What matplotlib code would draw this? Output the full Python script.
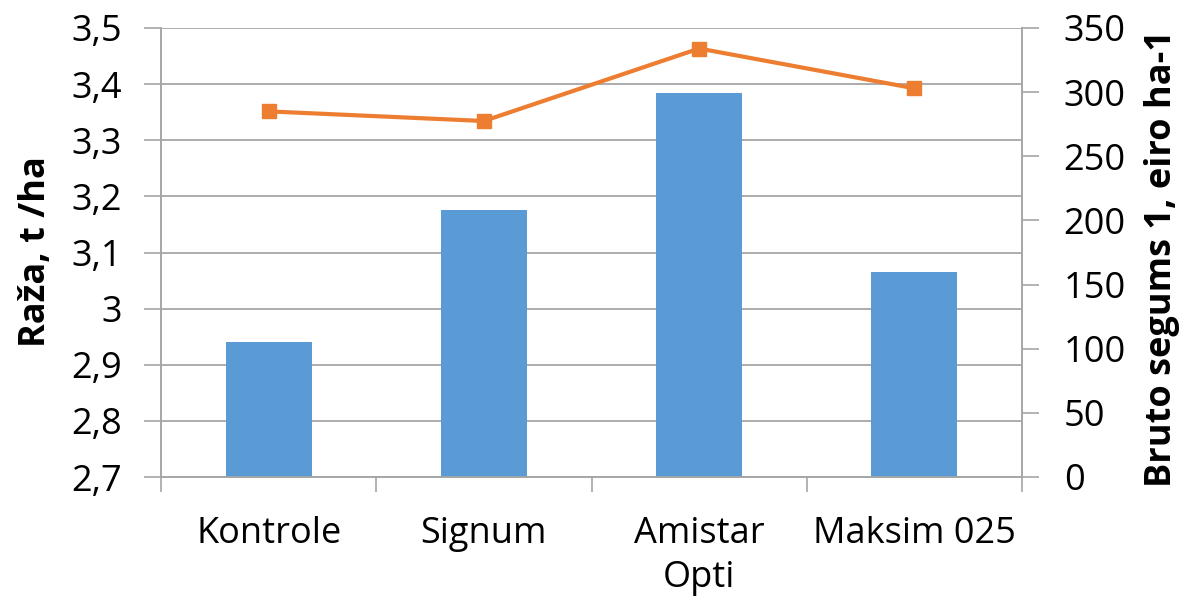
import matplotlib
matplotlib.use("Agg")
import matplotlib.pyplot as plt
from matplotlib.ticker import FuncFormatter

categories = ["Kontrole", "Signum", "Amistar\nOpti", "Maksim 025"]
yield_t_ha = [2.94, 3.175, 3.385, 3.065]
gross_margin = [285, 277.5, 334, 303]

plt.rcParams['font.family'] = ['Open Sans', 'DejaVu Sans']
grid_col = '#A6A6A6'
fs = 26

fig = plt.figure(figsize=(11.84, 6.03), dpi=100)
ax = fig.add_axes([161/1184, 1-477/603, (1022-161)/1184, (477-28)/603])
ax2 = ax.twinx()

x = list(range(len(categories)))
ax.bar(x, yield_t_ha, width=0.4, color='#5B9BD5', zorder=3)
ax.set_xlim(-0.5, len(categories) - 0.5)
ax.set_ylim(2.7, 3.5)
ax.set_yticks([2.7 + 0.1*i for i in range(9)])
ax.yaxis.set_major_formatter(FuncFormatter(lambda v, p: ('%g' % round(v, 1)).replace('.', ',')))
ax.grid(axis='y', color=grid_col, linewidth=1.3, zorder=0)
ax.set_axisbelow(True)

ax.set_xticks(x)
ax.set_xticklabels(categories, fontsize=fs, linespacing=1.3)
ax.set_xticks([i + 0.5 for i in range(-1, len(categories))], minor=True)
ax.tick_params(axis='x', which='major', length=0, pad=28)
ax.tick_params(axis='x', which='minor', length=11, color=grid_col, width=1.2)
ax.tick_params(axis='y', length=12, color=grid_col, width=1.2, labelsize=fs, pad=16)

ax2.plot(x, gross_margin, color='#ED7D31', linewidth=3, marker='s', markersize=10.5, zorder=4)
ax2.set_ylim(0, 350)
ax2.set_yticks(range(0, 351, 50))
ax2.tick_params(axis='y', length=12, color=grid_col, width=1.2, labelsize=fs, pad=18)

for a in (ax, ax2):
    a.spines['top'].set_visible(False)
    for s in ('left', 'right', 'bottom'):
        a.spines[s].set_color(grid_col)
        a.spines[s].set_linewidth(1.2)

ax.set_ylabel("Raža, t /ha", fontsize=fs, fontweight='bold')
ax2.set_ylabel("Bruto segums 1, eiro ha-1", fontsize=fs, fontweight='bold')
ax.yaxis.set_label_coords(36/1184, 1-252/603, transform=fig.transFigure)
ax2.yaxis.set_label_coords(1162/1184, 1-258/603, transform=fig.transFigure)
ax.yaxis.label.set_va('center')
ax2.yaxis.label.set_va('center')

fig.savefig("out.png", dpi=100)
